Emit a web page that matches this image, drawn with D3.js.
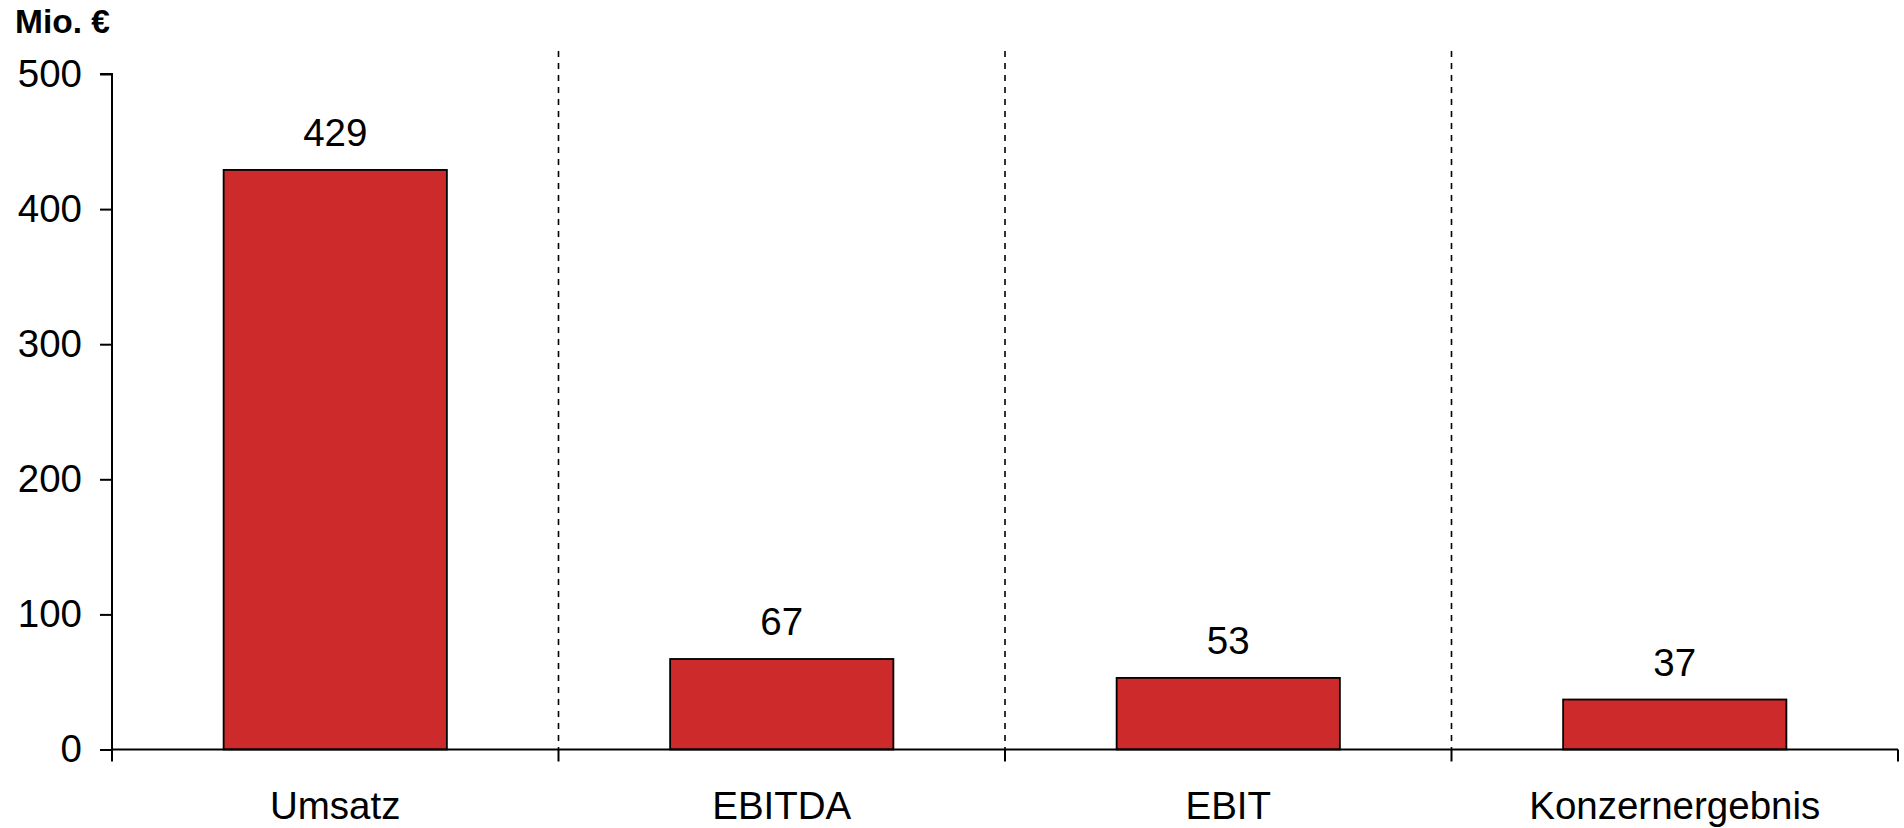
<!DOCTYPE html>
<html>
<head>
<meta charset="utf-8">
<script src="https://cdn.jsdelivr.net/npm/d3@7"></script>
<style>
  html, body { margin: 0; padding: 0; background: #fff; }
  svg { display: block; font-family: "Liberation Sans", Arial, sans-serif; }
</style>
</head>
<body>
<svg id="chart" width="1904" height="828"></svg>
<script>
// Kennzahlen in Mio. €
const categories = ["Umsatz", "EBITDA", "EBIT", "Konzernergebnis"];
const values = [429, 67, 53, 37];
const yTicks = [0, 100, 200, 300, 400, 500];
const unitLabel = "Mio. €";

const svg = d3.select("#chart");
const plotLeft = 112, plotRight = 1898, plotTop = 74, plotBottom = 749.5;

const x = d3.scaleBand().domain(categories).range([plotLeft, plotRight]).paddingInner(0).paddingOuter(0);
const y = d3.scaleLinear().domain([0, 500]).range([plotBottom, plotTop]);

const barW = x.bandwidth() / 2;

// dashed separators between categories
const seps = categories.slice(1).map(c => x(c));
svg.append("g").selectAll("line").data(seps).join("line")
  .attr("x1", d => d).attr("x2", d => d)
  .attr("y1", 51).attr("y2", plotBottom)
  .attr("stroke", "#000").attr("stroke-width", 1.6)
  .attr("stroke-dasharray", "6,6");

// bars
svg.append("g").selectAll("rect").data(values).join("rect")
  .attr("x", (d, i) => x(categories[i]) + (x.bandwidth() - barW) / 2)
  .attr("y", d => y(d))
  .attr("width", barW)
  .attr("height", d => y(0) - y(d))
  .attr("fill", "#CC2A2B")
  .attr("stroke", "#000").attr("stroke-width", 1.8);

// value labels
svg.append("g").selectAll("text").data(values).join("text")
  .attr("x", (d, i) => x(categories[i]) + x.bandwidth() / 2)
  .attr("y", d => y(d) - 24)
  .attr("text-anchor", "middle")
  .attr("font-size", 38.5)
  .attr("fill", "#000")
  .text(d => d);

// y axis
const yAxis = d3.axisLeft(y).tickValues(yTicks).tickSize(12).tickPadding(18);
const gy = svg.append("g").attr("transform", `translate(${plotLeft},0)`).call(yAxis);
gy.select(".domain").attr("d", `M${-12},${plotTop}H0V${plotBottom}`).attr("stroke-width", 2);
gy.selectAll(".tick line").attr("stroke-width", 2);
gy.selectAll(".tick text").attr("font-size", 38.5).attr("font-family", "Liberation Sans, Arial, sans-serif").attr("fill", "#000");

// x axis with ticks at category boundaries
const gx = svg.append("g");
gx.append("line")
  .attr("x1", plotLeft).attr("x2", plotRight).attr("y1", plotBottom).attr("y2", plotBottom)
  .attr("stroke", "#000").attr("stroke-width", 2);
const bounds = categories.map(c => x(c)).concat([plotRight]);
gx.selectAll("line.tk").data(bounds).join("line").attr("class", "tk")
  .attr("x1", d => d).attr("x2", d => d)
  .attr("y1", plotBottom).attr("y2", plotBottom + 12)
  .attr("stroke", "#000").attr("stroke-width", 2);
gx.selectAll("text").data(categories).join("text")
  .attr("x", d => x(d) + x.bandwidth() / 2)
  .attr("y", 819)
  .attr("text-anchor", "middle")
  .attr("font-size", 38.5)
  .attr("fill", "#000")
  .text(d => d);

// unit label
svg.append("text")
  .attr("x", 15).attr("y", 33)
  .attr("font-size", 33.5).attr("font-weight", "bold")
  .attr("fill", "#000")
  .text(unitLabel);
</script>
</body>
</html>
